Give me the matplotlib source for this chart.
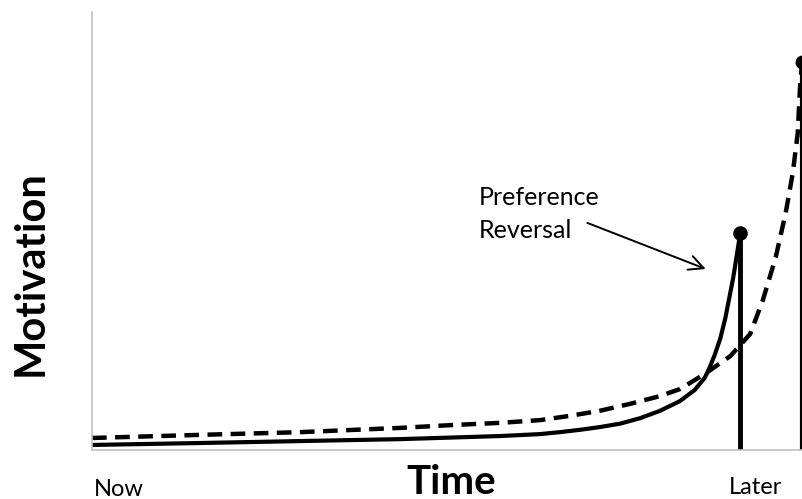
import matplotlib.pyplot as plt

# values (time 0-100, motivation 0-100)
smaller_sooner_time = [0, 15.2, 29.3, 43.4, 57.5, 63.1, 65.9, 68.7, 71.5, 74.4, 77.2, 80.0,
                       82.8, 84.9, 86.3, 87.0, 87.7, 88.5, 89.2, 90.3, 90.8, 91.3]
smaller_sooner_motiv = [1.3, 1.8, 2.3, 2.8, 3.6, 4.1, 4.6, 5.2, 5.9, 6.8, 8.2, 10.1,
                        12.6, 15.5, 18.6, 21.3, 24.5, 28.8, 34.0, 44.3, 50.0, 55.9]

larger_later_time = [0, 15.2, 29.3, 43.4, 50.4, 57.5, 63.1, 67.3, 71.5, 75.8, 80.0, 82.8,
                     86.3, 89.9, 92.7, 94.5, 96.3, 97.7, 98.7, 99.4, 99.7, 100]
larger_later_motiv = [3.1, 3.9, 4.6, 5.7, 6.4, 7.0, 7.7, 8.8, 10.1, 11.9, 13.9, 15.7,
                      19.6, 24.2, 29.9, 38.7, 49.7, 61.1, 71.4, 81.7, 92.8, 100]

fig = plt.figure(figsize=(8.03, 4.99), dpi=100)
ax = fig.add_axes([92 / 803, 49 / 499, 711 / 803, 438 / 499])

# dashed: larger-later reward
ax.plot(larger_later_time, larger_later_motiv, color="black", lw=3.2,
        linestyle=(0, (3.3, 1.9)))
ax.plot([larger_later_time[-1]] * 2, [0, larger_later_motiv[-1]], color="black", lw=3)
ax.plot(larger_later_time[-1], larger_later_motiv[-1], "o", color="black", ms=9)

# solid: smaller-sooner reward
ax.plot(smaller_sooner_time, smaller_sooner_motiv, color="black", lw=3)
ax.plot([smaller_sooner_time[-1]] * 2, [0, smaller_sooner_motiv[-1]], color="black", lw=3.5)
ax.plot(smaller_sooner_time[-1], smaller_sooner_motiv[-1], "o", color="black", ms=9.5)

ax.set_xlim(0, 100.14)
ax.set_ylim(0, 112.9)

for s in ["top", "right"]:
    ax.spines[s].set_visible(False)
for s in ["left", "bottom"]:
    ax.spines[s].set_color("#c0c0c0")
    ax.spines[s].set_linewidth(1.2)
ax.set_xticks([])
ax.set_yticks([])

ax.annotate("", xy=(86.8, 46.4), xytext=(69.4, 58.8),
            arrowprops=dict(arrowstyle="->", color="black", lw=1.4,
                            mutation_scale=26))
ax.text(54.5, 60.8, "Preference\nReversal", fontsize=18, family="Lato",
        ha="left", va="center", linespacing=1.55)

fig.text(31 / 803, 1 - 273 / 499, "Motivation", rotation=90, fontsize=30,
         fontweight="bold", family="Lato", ha="center", va="center")
fig.text(451 / 803, 1 - 482 / 499, "Time", fontsize=29, fontweight="bold",
         family="Lato", ha="center", va="center")
fig.text(94 / 803, 1 - 490 / 499, "Now", fontsize=17, family="Lato",
         ha="left", va="center")
fig.text(756 / 803, 1 - 488 / 499, "Later", fontsize=17, family="Lato",
         ha="center", va="center")

fig.savefig("out.png", dpi=100)
